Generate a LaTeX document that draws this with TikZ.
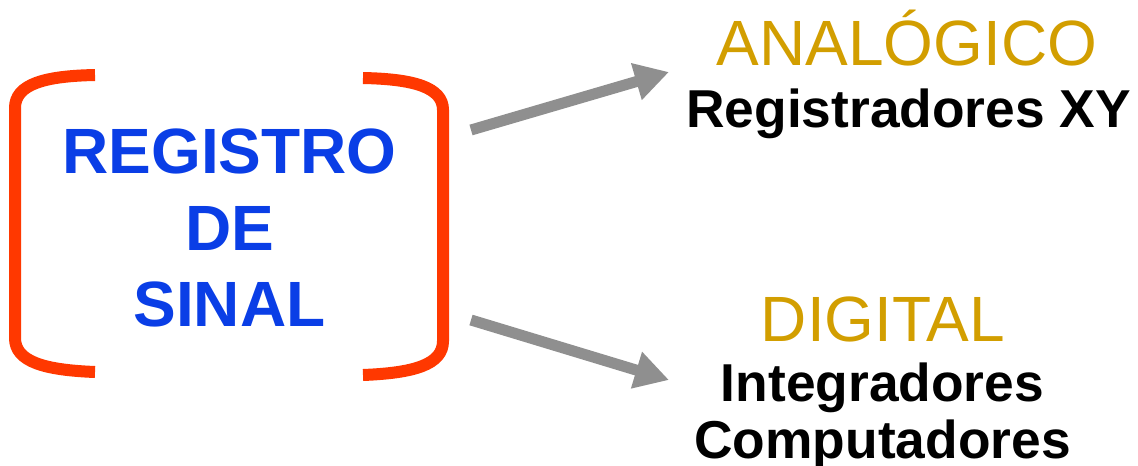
\documentclass[tikz,border=0pt]{standalone}
\usepackage{fontspec}
\setmainfont{Liberation Sans}
\usetikzlibrary{arrows.meta, positioning}
\definecolor{regblue}{RGB}{10,62,230}
\definecolor{brackred}{RGB}{255,56,0}
\definecolor{kindgold}{RGB}{210,158,0}
\definecolor{arrowgray}{RGB}{143,143,143}
\tikzset{
  bracket/.style={draw=brackred, line width=9pt},
  flow/.style={draw=arrowgray, line width=8.25pt,
    -{Triangle[length=25.5pt, width=27pt]}},
  regline/.style={anchor=base, text=regblue, inner sep=0pt,
    font=\fontsize{48}{57.6}\selectfont\bfseries},
  kind/.style={anchor=base, text=kindgold, inner sep=0pt,
    font=\fontsize{48}{57.6}\selectfont},
  device/.style={anchor=base, text=black, inner sep=0pt,
    font=\fontsize{40}{48}\selectfont\bfseries},
}

\begin{document}
\begin{tikzpicture}[x=0.75pt, y=-0.75pt]
  \useasboundingbox (0,0) rectangle (1138,465);

  % ----- brackets round the title -------------------------------------------
  \draw[bracket] (95,75) .. controls (45,76) and (15,84) .. (15,108)
    -- (15,338) .. controls (15,362) and (45,370) .. (95,372);
  \draw[bracket] (363,78) .. controls (413,79) and (443,87) .. (443,110)
    -- (443,341) .. controls (443,365) and (413,373) .. (363,375);

  % ----- title --------------------------------------------------------------
  \node[regline] (reg1) at (229.5,173.3) {REGISTRO};
  \node[regline] (reg2) at (229.5,250.0) {DE};
  \node[regline] (reg3) at (229.5,326.7) {SINAL};

  % ----- the two kinds ------------------------------------------------------
  \node[kind]   (ana)  at (907,65)    {ANALÓGICO};
  \node[device] (xy)   at (908.7,127.7) {Registradores XY};
  \node[kind]   (dig)  at (883,341.7) {DIGITAL};
  \node[device] (intg) at (882.5,401.7) {Integradores};
  \node[device] (comp) at (882.5,458)   {Computadores};

  % ----- arrows -------------------------------------------------------------
  \coordinate (upfrom) at (471,130);
  \coordinate (upto)   at (669,72);
  \coordinate (dnfrom) at (471,320);
  \coordinate (dnto)   at (669,380);
  \draw[flow] (upfrom) -- (upto);
  \draw[flow] (dnfrom) -- (dnto);

\end{tikzpicture}
\end{document}
